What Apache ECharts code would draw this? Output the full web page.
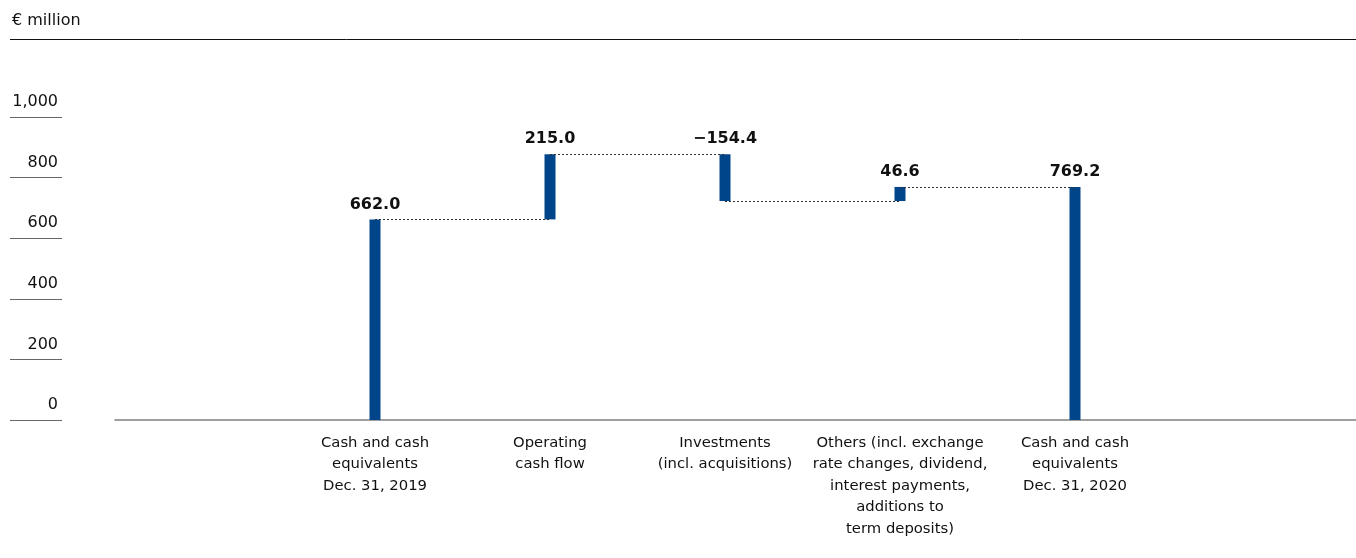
<!DOCTYPE html>
<html><head><meta charset="utf-8">
<script src="https://cdn.jsdelivr.net/npm/echarts@6/dist/echarts.min.js"></script>
<style>html,body{margin:0;padding:0;background:#fff}#c{width:1356px;height:558px}</style>
</head><body><div id="c"></div>
<script>
const categories = ['Cash and cash\nequivalents\nDec. 31, 2019','Operating\ncash flow','Investments\n(incl. acquisitions)','Others (incl. exchange\nrate changes, dividend,\ninterest payments,\nadditions to\nterm deposits)','Cash and cash\nequivalents\nDec. 31, 2020'];
const values = [662.0, 215.0, -154.4, 46.6, 769.2];
const isTotal = [true, false, false, false, true];
const yTicks = [0, 200, 400, 600, 800, 1000];

const FONT = '"DejaVu Sans", sans-serif';
const BLUE = '#004489';

// waterfall pieces
const base = [], height = [];
let run = 0;
values.forEach((v, i) => {
  if (isTotal[i]) { base.push(0); height.push(v); run = v; }
  else {
    const nb = run + v;
    base.push(Math.min(run, nb)); height.push(Math.abs(v)); run = nb;
  }
});
const levels = []; run = 0;
values.forEach((v, i) => { run = isTotal[i] ? v : run + v; levels.push(run); });

const cats = [''].concat(categories, ['']);
const pad = a => [null].concat(a, [null]);
const connectors = [];
for (let i = 0; i < values.length - 1; i++) {
  const lv = levels[i];
  connectors.push([{coord: [i + 1, lv]}, {coord: [i + 2, lv]}]);
}
const fmt = v => (v < 0 ? '\u2212' : '') + Math.abs(v).toFixed(1);

const chart = echarts.init(document.getElementById('c'), null, {renderer: 'canvas'});
chart.setOption({
  animation: false,
  textStyle: {fontFamily: FONT},
  title: {text: '€ million', left: 7, top: 8, textStyle: {fontFamily: FONT, fontSize: 16, fontWeight: 'normal', color: '#111'}},
  graphic: [{type: 'line', shape: {x1: 10, y1: 39.5, x2: 1356, y2: 39.5}, style: {stroke: '#111', lineWidth: 1}}],
  grid: [
    {left: 112.5, right: 18.5, top: 117, bottom: 138},
    {left: 10, width: 52, top: 117, bottom: 138},
    {left: 115, right: 0, top: 117, bottom: 138}
  ],
  xAxis: [
    {gridIndex: 0, type: 'category', data: cats, axisLine: {show: false}, axisTick: {show: false},
     axisLabel: {interval: 0, margin: 12, fontSize: 14.8, lineHeight: 21.5, color: '#111', fontFamily: FONT, verticalAlign: 'top'}},
    {gridIndex: 1, type: 'value', show: false},
    {gridIndex: 2, type: 'value', min: 0, max: 1, axisLine: {show: true, lineStyle: {color: '#808080', width: 1.5}},
     axisTick: {show: false}, axisLabel: {show: false}, splitLine: {show: false}}
  ],
  yAxis: [
    {gridIndex: 0, type: 'value', min: yTicks[0], max: yTicks[yTicks.length - 1], show: false},
    {gridIndex: 1, type: 'value', min: yTicks[0], max: yTicks[yTicks.length - 1], interval: yTicks[1] - yTicks[0],
     position: 'right', axisLine: {show: false}, axisTick: {show: false},
     splitLine: {show: true, lineStyle: {color: '#666', width: 1}},
     axisLabel: {inside: true, margin: 4, fontSize: 16, color: '#111', fontFamily: FONT, verticalAlign: 'bottom', padding: [0, 0, 7, 0],
       formatter: v => v.toLocaleString('en-US')}},
    {gridIndex: 2, type: 'value', min: 0, max: 1, show: false}
  ],
  series: [
    {type: 'bar', xAxisIndex: 0, yAxisIndex: 0, stack: 'w', data: pad(base), barWidth: 11,
     itemStyle: {color: 'transparent'}, silent: true, z: 3},
    {type: 'bar', xAxisIndex: 0, yAxisIndex: 0, stack: 'w', data: pad(height), barWidth: 11, z: 3,
     itemStyle: {color: BLUE},
     label: {show: true, position: 'top', distance: 7, fontSize: 16, fontWeight: 'bold', color: '#111', fontFamily: FONT,
       formatter: p => fmt(values[p.dataIndex - 1])}},
    {type: 'line', xAxisIndex: 0, yAxisIndex: 0, data: [], z: 1,
     markLine: {silent: true, symbol: 'none', label: {show: false},
       lineStyle: {type: [2, 2], color: '#333', width: 1}, data: connectors}}
  ]
});
</script></body></html>
